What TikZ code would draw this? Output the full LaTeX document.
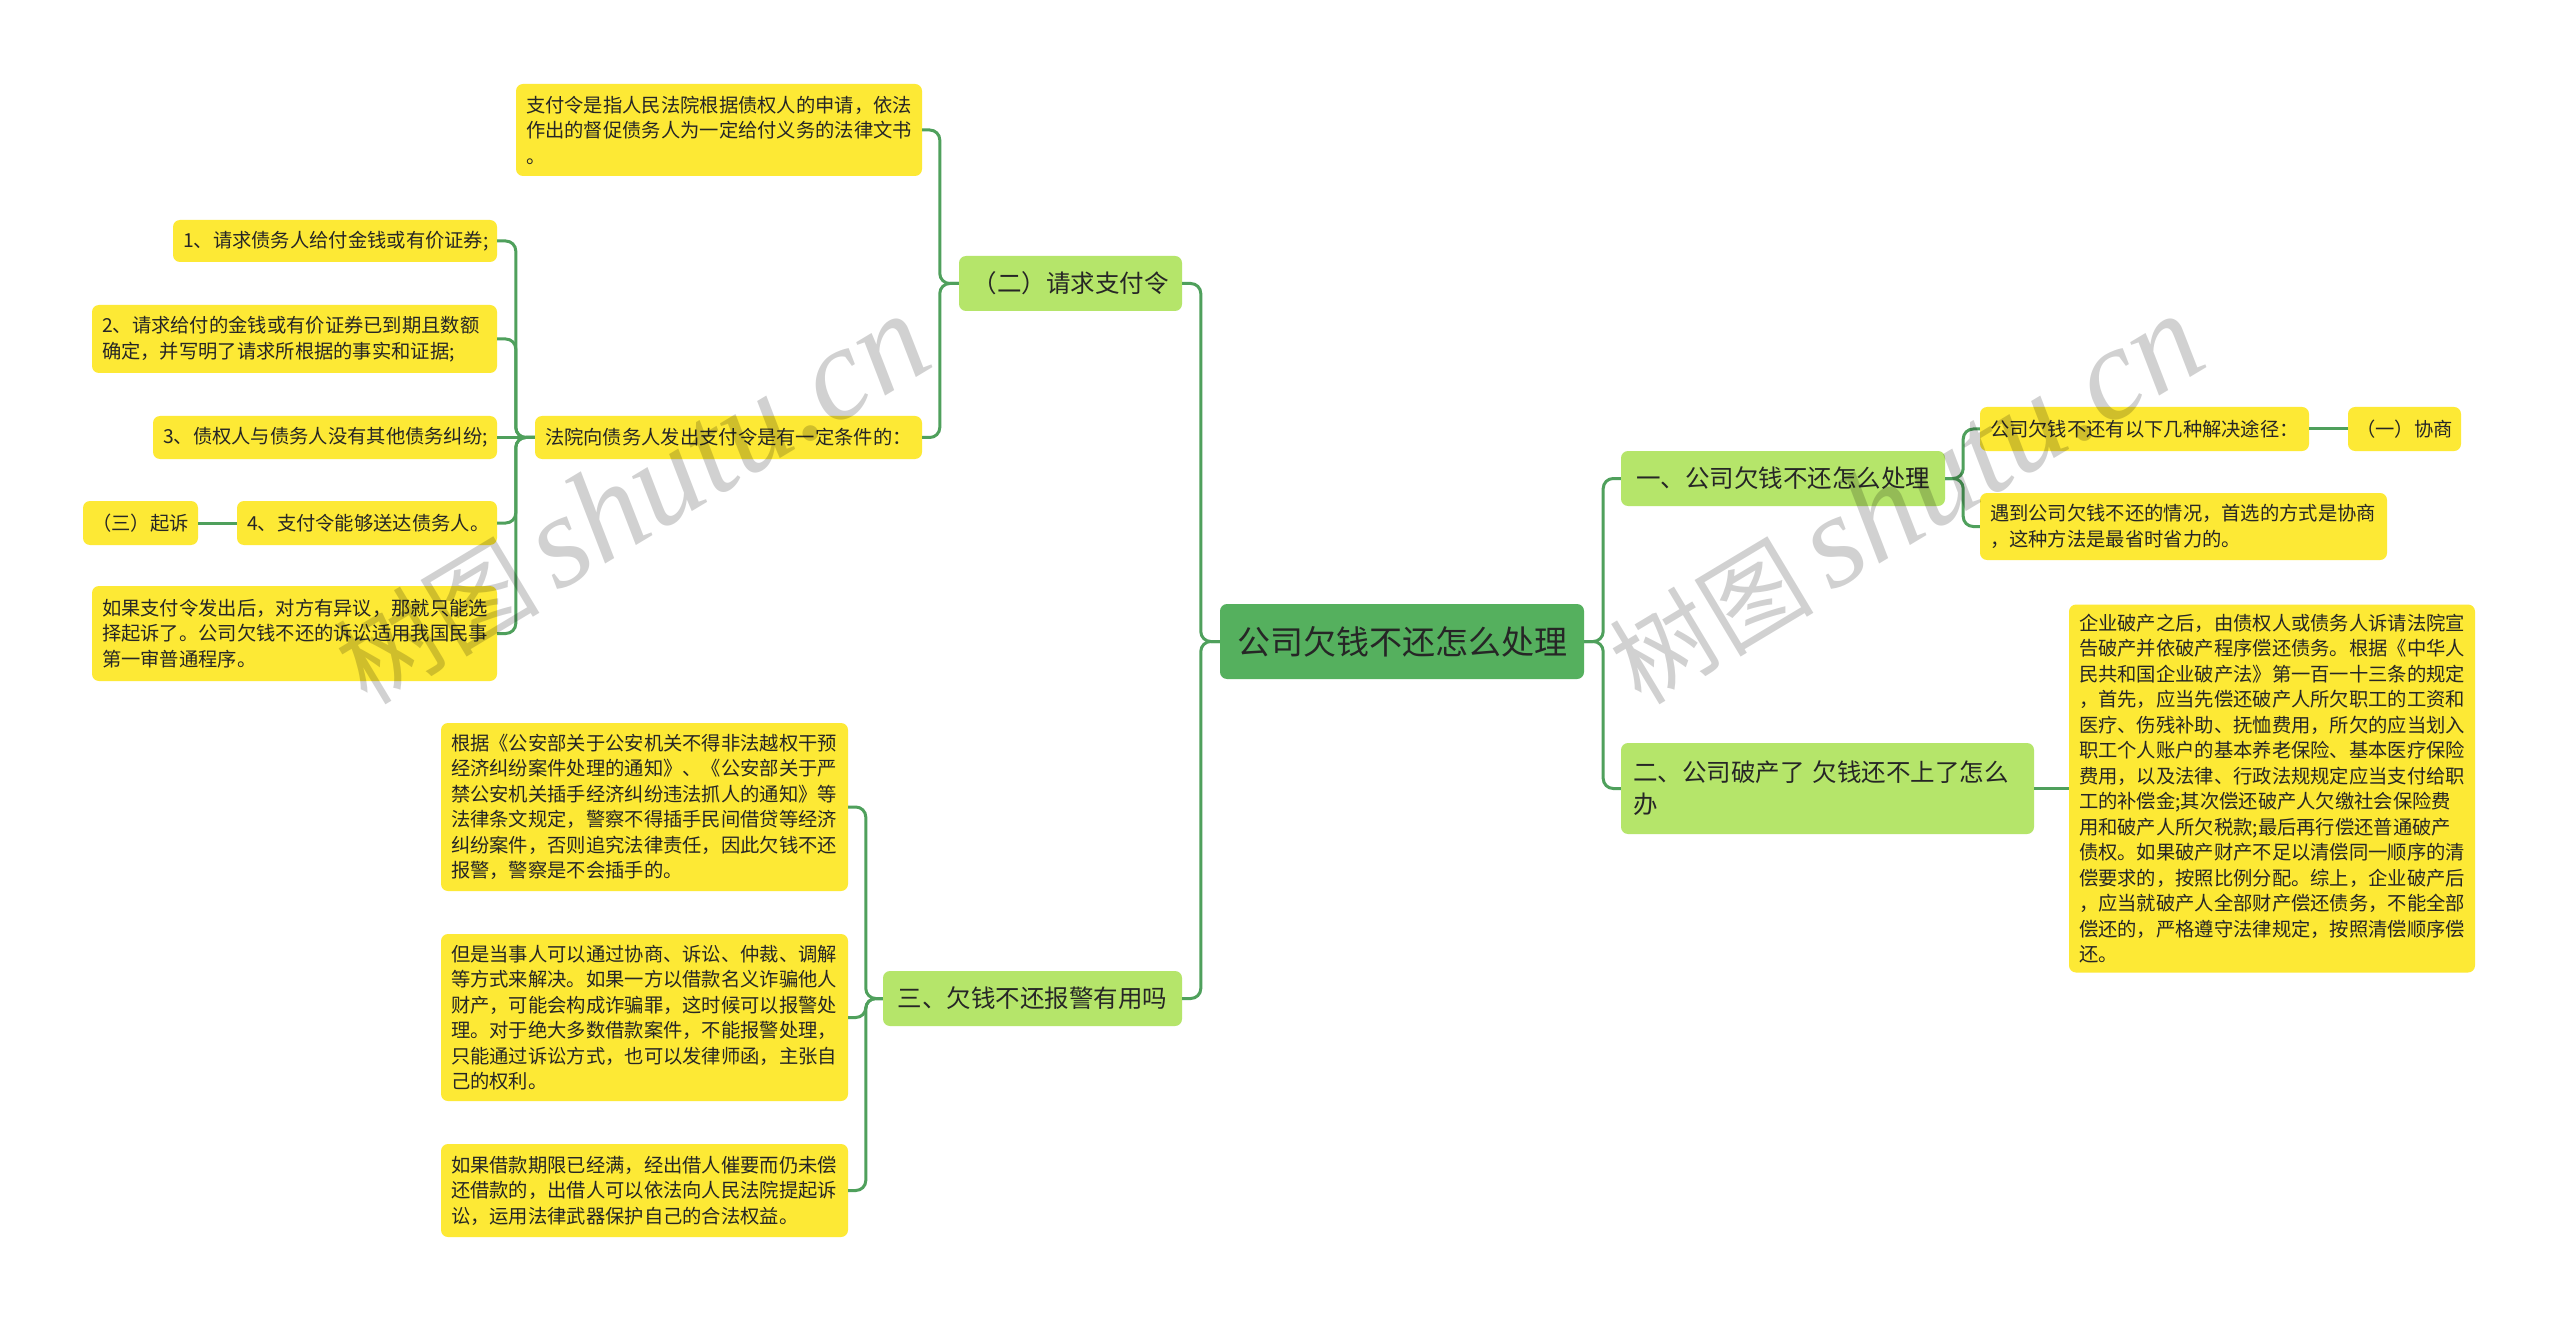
\documentclass[tikz,border=0pt]{standalone}
\usepackage{fontspec}
\setmainfont{Noto Sans CJK SC}
\newfontfamily\wmlat{Liberation Serif}
\definecolor{rootg}{HTML}{55B05E}
\definecolor{lgreen}{HTML}{B5E56A}
\definecolor{yel}{HTML}{FDE935}
\definecolor{lineg}{HTML}{4FA05C}
\definecolor{txt}{HTML}{262626}
\tikzset{
  basebox/.style={rounded corners=7pt, text=txt, inner xsep=10pt, inner ysep=3pt},
  rootbox/.style={basebox, fill=rootg, font=\fontsize{33}{40}\selectfont, align=center},
  lonebox/.style={basebox, fill=lgreen, font=\fontsize{24.5}{32}\selectfont, align=center},
  ybox/.style={basebox, fill=yel, font=\fontsize{19.3}{25.5}\selectfont, align=left},
  ycbox/.style={basebox, fill=yel, font=\fontsize{19.3}{25.5}\selectfont, align=center, inner xsep=4pt},
  conn/.style={draw=lineg, line width=3pt, rounded corners=10pt},
  wmark/.style={text=black, opacity=0.18, inner sep=0pt, rotate=31, anchor=south west}
}
\begin{document}
\begin{tikzpicture}[x=1pt,y=-1pt]
\useasboundingbox[fill=white] (0,0) rectangle (2560,1321);

% root
\node[rootbox, minimum width=364pt, minimum height=75pt] (root) at (1402,641.5) {公司欠钱不还怎么处理};

% level 1
\node[lonebox, minimum width=223pt, minimum height=55pt] (n2) at (1070.5,283.5) {（二）请求支付令};
\node[lonebox, minimum width=299pt, minimum height=55pt] (n3) at (1032.5,998.5) {三、欠钱不还报警有用吗};
\node[lonebox, minimum width=324pt, minimum height=55pt] (n1) at (1783,478.5) {一、公司欠钱不还怎么处理};
\node[lonebox, align=left, inner xsep=12pt, text width=389pt, minimum height=91pt] (n4) at (1827.5,788.5) {二、公司破产了 欠钱还不上了怎么\\办};

% under (二)
\node[ybox, text width=386pt, minimum height=92pt] (A) at (719,130) {支付令是指人民法院根据债权人的申请，依法\\作出的督促债务人为一定给付义务的法律文书\\。};
\node[ybox, text width=367pt, minimum height=43pt] (B) at (728.5,437.5) {法院向债务人发出支付令是有一定条件的：};
\node[ybox, text width=304pt, minimum height=42pt] (C1) at (335,241) {1、请求债务人给付金钱或有价证券;};
\node[ybox, text width=385pt, minimum height=68pt] (C2) at (294.5,339) {2、请求给付的金钱或有价证券已到期且数额\\确定，并写明了请求所根据的事实和证据;};
\node[ybox, text width=324pt, minimum height=43pt] (C3) at (325,437.5) {3、债权人与债务人没有其他债务纠纷;};
\node[ybox, text width=240pt, minimum height=44pt] (C4) at (367,523) {4、支付令能够送达债务人。};
\node[ycbox, minimum width=115pt, minimum height=44pt] (D) at (140.5,523) {（三）起诉};
\node[ybox, text width=385pt, minimum height=95pt] (E) at (294.5,633.5) {如果支付令发出后，对方有异议，那就只能选\\择起诉了。公司欠钱不还的诉讼适用我国民事\\第一审普通程序。};

% under 三
\node[ybox, text width=387pt, minimum height=168pt] (F1) at (644.5,807) {根据《公安部关于公安机关不得非法越权干预\\经济纠纷案件处理的通知》、《公安部关于严\\禁公安机关插手经济纠纷违法抓人的通知》等\\法律条文规定，警察不得插手民间借贷等经济\\纠纷案件，否则追究法律责任，因此欠钱不还\\报警，警察是不会插手的。};
\node[ybox, text width=387pt, minimum height=167pt] (F2) at (644.5,1017.5) {但是当事人可以通过协商、诉讼、仲裁、调解\\等方式来解决。如果一方以借款名义诈骗他人\\财产，可能会构成诈骗罪，这时候可以报警处\\理。对于绝大多数借款案件，不能报警处理，\\只能通过诉讼方式，也可以发律师函，主张自\\己的权利。};
\node[ybox, text width=387pt, minimum height=93pt] (F3) at (644.5,1190.5) {如果借款期限已经满，经出借人催要而仍未偿\\还借款的，出借人可以依法向人民法院提起诉\\讼，运用法律武器保护自己的合法权益。};

% under 一
\node[ybox, text width=309pt, minimum height=44pt] (G1) at (2144.5,429) {公司欠钱不还有以下几种解决途径：};
\node[ycbox, minimum width=113pt, minimum height=44pt] (G2) at (2404.5,429) {（一）协商};
\node[ybox, text width=387pt, minimum height=67pt] (G3) at (2183.5,526.5) {遇到公司欠钱不还的情况，首选的方式是协商\\，这种方法是最省时省力的。};

% under 二
\node[ybox, text width=386pt, minimum height=368pt] (H) at (2272,788.5) {企业破产之后，由债权人或债务人诉请法院宣\\告破产并依破产程序偿还债务。根据《中华人\\民共和国企业破产法》第一百一十三条的规定\\，首先，应当先偿还破产人所欠职工的工资和\\医疗、伤残补助、抚恤费用，所欠的应当划入\\职工个人账户的基本养老保险、基本医疗保险\\费用，以及法律、行政法规规定应当支付给职\\工的补偿金;其次偿还破产人欠缴社会保险费\\用和破产人所欠税款;最后再行偿还普通破产\\债权。如果破产财产不足以清偿同一顺序的清\\偿要求的，按照比例分配。综上，企业破产后\\，应当就破产人全部财产偿还债务，不能全部\\偿还的，严格遵守法律规定，按照清偿顺序偿\\还。};

% connectors
\draw[conn] (root.west) -- ++(-19,0) |- (n2.east);
\draw[conn] (root.west) -- ++(-19,0) |- (n3.east);
\draw[conn] (root.east) -- ++(19,0) |- (n1.west);
\draw[conn] (root.east) -- ++(19,0) |- (n4.west);
\draw[conn] (n2.west) -- ++(-19,0) |- (A.east);
\draw[conn] (n2.west) -- ++(-19,0) |- (B.east);
\draw[conn] (B.west) -- ++(-19,0) |- (C1.east);
\draw[conn] (B.west) -- ++(-19,0) |- (C2.east);
\draw[conn] (B.west) -- (C3.east);
\draw[conn] (B.west) -- ++(-19,0) |- (C4.east);
\draw[conn] (B.west) -- ++(-19,0) |- (E.east);
\draw[conn] (C4.west) -- (D.east);
\draw[conn] (n3.west) -- ++(-17,0) |- (F1.east);
\draw[conn] (n3.west) -- ++(-17,0) |- (F2.east);
\draw[conn] (n3.west) -- ++(-17,0) |- (F3.east);
\draw[conn] (n1.east) -- ++(18,0) |- (G1.west);
\draw[conn] (n1.east) -- ++(18,0) |- (G3.west);
\draw[conn] (G1.east) -- (G2.west);
\draw[conn] (n4.east) -- (H.west);

% watermarks
\node[wmark] (wm1) at (372,714) {\fontsize{102}{104}\selectfont 树图\,{\wmlat\itshape\fontsize{132}{136}\selectfont shutu.cn}};
\node[wmark] (wm2) at (1646,714) {\fontsize{102}{104}\selectfont 树图\,{\wmlat\itshape\fontsize{132}{136}\selectfont shutu.cn}};
\end{tikzpicture}
\end{document}
